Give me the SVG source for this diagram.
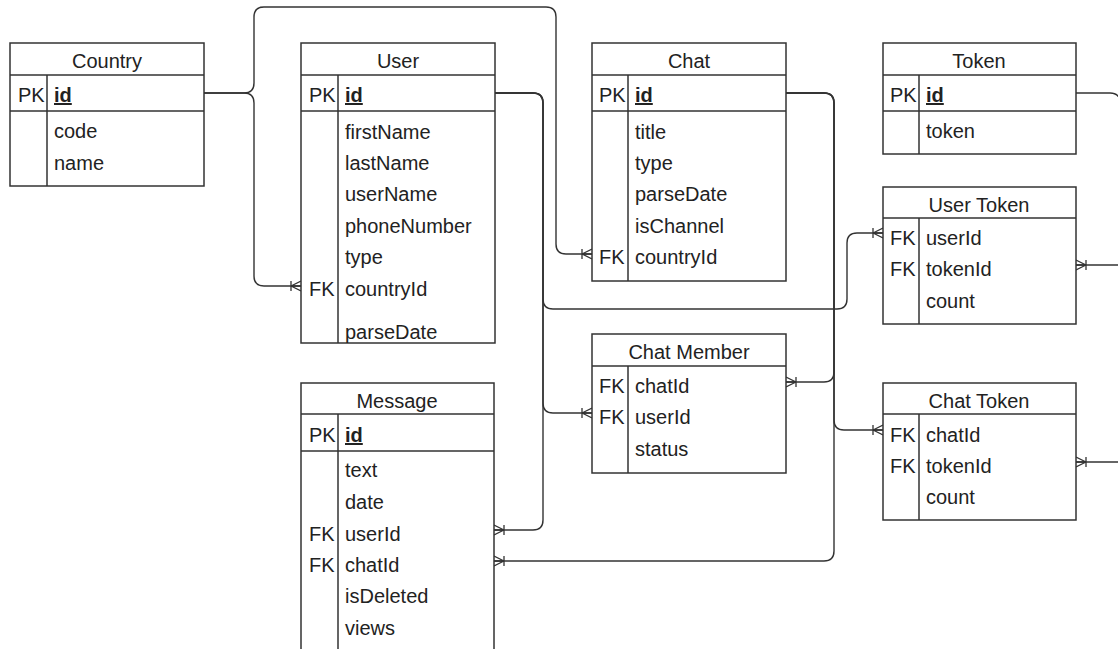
<svg xmlns="http://www.w3.org/2000/svg" width="1118" height="649" viewBox="0 0 1118 649">
<style>
.box{fill:#fff;stroke:#333;stroke-width:1.5}
.ln{stroke:#333;stroke-width:1.5;fill:none}
text{font-family:"Liberation Sans",Arial,sans-serif;font-size:20px;fill:#222}
.t{text-anchor:middle}
.pk{font-weight:bold;text-decoration:underline}
.c{fill:none;stroke:#333;stroke-width:1.4;marker-end:url(#crow)}
.c0{fill:none;stroke:#333;stroke-width:1.4}
</style>
<defs>
<marker id="crow" viewBox="0 0 12 12" markerUnits="userSpaceOnUse" markerWidth="12" markerHeight="12" refX="12" refY="6" orient="auto">
<path d="M2,6 L12,1 M2,6 L12,11 M2,6 L12,6 M2,1 L2,11" fill="none" stroke="#333" stroke-width="1.3"/>
</marker>
</defs>
<rect width="1118" height="649" fill="#fff"/>
<g id="connectors">
<path class="c" d="M204,93 H244 Q254,93 254,83 V17 Q254,7 264,7 H546 Q556,7 556,17 V244 Q556,254 566,254 H592"/>
<path class="c" d="M204,93 H244 Q254,93 254,103 V276 Q254,286 264,286 H301"/>
<path class="c" d="M495,93 H533 Q543,93 543,103 V299 Q543,309 553,309 H837 Q847,309 847,299 V243 Q847,233 857,233 H883"/>
<path class="c" d="M495,93 H533 Q543,93 543,103 V403 Q543,413 553,413 H592"/>
<path class="c" d="M495,93 H533 Q543,93 543,103 V520 Q543,530 533,530 H494"/>
<path class="c" d="M786,93 H824 Q834,93 834,103 V372 Q834,382 824,382 H786"/>
<path class="c" d="M786,93 H824 Q834,93 834,103 V420 Q834,430 844,430 H883"/>
<path class="c" d="M786,93 H824 Q834,93 834,103 V551 Q834,561 824,561 H494"/>
<path class="c0" d="M1076,93 H1110 Q1120,93 1120,103 V200"/>
<path class="c" d="M1130,265 H1076"/>
<path class="c" d="M1130,462 H1076"/>
</g>
<g id="country">
<rect class="box" x="10" y="43" width="194" height="143"/>
<path class="ln" d="M10,75 H204 M10,111 H204 M47,75 V186"/>
<text class="t" x="107" y="68">Country</text>
<text x="18" y="102">PK</text><text class="pk" x="54" y="102">id</text>
<text x="54" y="138">code</text><text x="54" y="170">name</text>
</g>
<g id="user">
<rect class="box" x="301" y="43" width="194" height="300"/>
<path class="ln" d="M301,75 H495 M301,111 H495 M338,75 V343"/>
<text class="t" x="398" y="68">User</text>
<text x="309" y="102">PK</text><text class="pk" x="345" y="102">id</text>
<text x="345" y="139">firstName</text>
<text x="345" y="170">lastName</text>
<text x="345" y="201">userName</text>
<text x="345" y="233">phoneNumber</text>
<text x="345" y="264">type</text>
<text x="309" y="296">FK</text><text x="345" y="296">countryId</text>
<text x="345" y="339">parseDate</text>
</g>
<g id="chat">
<rect class="box" x="592" y="43" width="194" height="238"/>
<path class="ln" d="M592,75 H786 M592,111 H786 M628,75 V281"/>
<text class="t" x="689" y="68">Chat</text>
<text x="599" y="102">PK</text><text class="pk" x="635" y="102">id</text>
<text x="635" y="139">title</text>
<text x="635" y="170">type</text>
<text x="635" y="201">parseDate</text>
<text x="635" y="233">isChannel</text>
<text x="599" y="264">FK</text><text x="635" y="264">countryId</text>
</g>
<g id="token">
<rect class="box" x="883" y="43" width="193" height="111"/>
<path class="ln" d="M883,75 H1076 M883,111 H1076 M919,75 V154"/>
<text class="t" x="979" y="68">Token</text>
<text x="890" y="102">PK</text><text class="pk" x="926" y="102">id</text>
<text x="926" y="138">token</text>
</g>
<g id="user-token">
<rect class="box" x="883" y="187" width="193" height="137"/>
<path class="ln" d="M883,218 H1076 M919,218 V324"/>
<text class="t" x="979" y="212">User Token</text>
<text x="890" y="245">FK</text><text x="926" y="245">userId</text>
<text x="890" y="276">FK</text><text x="926" y="276">tokenId</text>
<text x="926" y="308">count</text>
</g>
<g id="chat-member">
<rect class="box" x="592" y="334" width="194" height="139"/>
<path class="ln" d="M592,366 H786 M628,366 V473"/>
<text class="t" x="689" y="359">Chat Member</text>
<text x="599" y="393">FK</text><text x="635" y="393">chatId</text>
<text x="599" y="424">FK</text><text x="635" y="424">userId</text>
<text x="635" y="456">status</text>
</g>
<g id="chat-token">
<rect class="box" x="883" y="383" width="193" height="137"/>
<path class="ln" d="M883,414 H1076 M919,414 V520"/>
<text class="t" x="979" y="408">Chat Token</text>
<text x="890" y="442">FK</text><text x="926" y="442">chatId</text>
<text x="890" y="473">FK</text><text x="926" y="473">tokenId</text>
<text x="926" y="504">count</text>
</g>
<g id="message">
<rect class="box" x="301" y="383" width="193" height="290"/>
<path class="ln" d="M301,414 H494 M301,451 H494 M338,414 V673"/>
<text class="t" x="397" y="408">Message</text>
<text x="309" y="442">PK</text><text class="pk" x="345" y="442">id</text>
<text x="345" y="477">text</text>
<text x="345" y="509">date</text>
<text x="309" y="541">FK</text><text x="345" y="541">userId</text>
<text x="309" y="572">FK</text><text x="345" y="572">chatId</text>
<text x="345" y="603">isDeleted</text>
<text x="345" y="635">views</text>
</g>
</svg>
